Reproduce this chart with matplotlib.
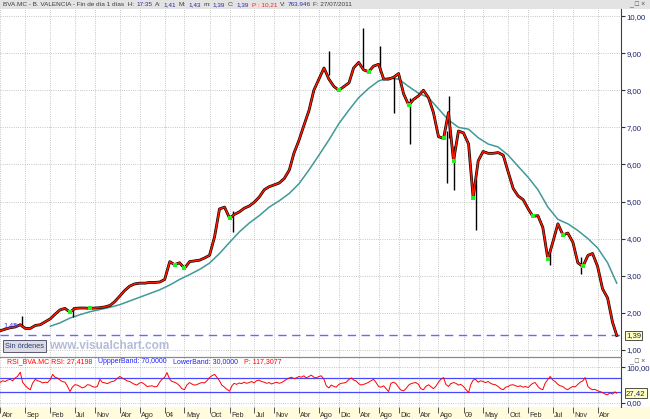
import pandas as pd
import matplotlib
matplotlib.use("Agg")
import matplotlib.pyplot as plt
import matplotlib.transforms as mtransforms
from matplotlib.patches import Rectangle

plt.rcParams['font.family'] = ['Liberation Sans', 'DejaVu Sans']

W, H = 650, 419

# monthly closes, first trading day of each month, Apr 2001 .. Jul 2011
close_monthly = [
    1.52, 1.56, 1.60, 1.62, 1.68, 1.58, 1.58, 1.66, 1.68, 1.76, 1.84, 1.96,
    2.08, 2.12, 2.02, 2.12, 2.13, 2.13, 2.12, 2.13, 2.14, 2.16, 2.20, 2.30,
    2.45, 2.60, 2.72, 2.78, 2.80, 2.80, 2.82, 2.82, 2.83, 2.90, 3.38, 3.30,
    3.35, 3.20, 3.38, 3.40, 3.42, 3.48, 3.55, 4.05, 4.80, 4.85, 4.55, 4.65,
    4.72, 4.82, 4.88, 4.98, 5.12, 5.32, 5.40, 5.45, 5.50, 5.62, 5.85, 6.30,
    6.65, 7.05, 7.45, 8.00, 8.30, 8.60, 8.30, 8.10, 8.00, 8.10, 8.20, 8.60,
    8.75, 8.55, 8.50, 8.65, 8.70, 8.30, 8.30, 8.35, 8.45, 7.90, 7.60, 7.75,
    7.85, 8.00, 7.80, 7.40, 6.75, 6.70, 7.40, 6.10, 6.90, 6.85, 6.55, 5.10,
    6.10, 6.35, 6.30, 6.30, 6.32, 6.25, 5.80, 5.35, 5.15, 5.05, 4.80, 4.60,
    4.62, 4.30, 3.45, 3.90, 4.40, 4.10, 4.15, 3.90, 3.35, 3.25, 3.55, 3.60,
    3.25, 2.65, 2.40, 1.75,
]
last_date = "2011-07-27"
last_close = 1.39
first_close_label = "1,45"

# long moving average, every two months from Feb 2002
ma_values = [
    1.64, 1.73, 1.86, 1.95, 2.03, 2.09, 2.15, 2.22, 2.32, 2.42, 2.52, 2.62,
    2.75, 2.90, 3.03, 3.17, 3.34, 3.60, 3.90, 4.18, 4.42, 4.62, 4.85, 5.02,
    5.22, 5.48, 5.85, 6.25, 6.66, 7.10, 7.47, 7.80, 8.05, 8.25, 8.33, 8.30,
    8.10, 7.92, 7.80, 7.50, 7.20, 7.00, 6.95, 6.72, 6.55, 6.47, 6.25, 5.95,
    5.65, 5.32, 4.85, 4.52, 4.40, 4.22, 4.00, 3.75, 3.35,
]
ma_last = 2.80

# visible high/low spikes of the daily bars
wick_dates = ["2001-08-10", "2002-06-20", "2005-02-20", "2006-10-01", "2007-04-25",
              "2007-08-10", "2007-11-05", "2008-02-10", "2008-09-20", "2008-10-05",
              "2008-11-05", "2009-03-20", "2010-06-15", "2010-12-20"]
wick_low = [1.62, 1.90, 4.18, 8.40, 8.60, 8.50, 7.40, 6.55, 5.50, 6.70, 5.30, 4.23, 3.28, 3.05]
wick_high = [1.92, 2.15, 4.75, 9.05, 9.68, 9.20, 8.35, 7.80, 6.90, 7.85, 6.50, 5.60, 3.75, 3.50]

# RSI, twice a month from Apr 2001
rsi_values = [
    58, 62, 60, 64, 66, 62, 70, 74, 86, 58, 48, 42,
    37, 55, 66, 62, 60, 56, 58, 57, 66, 80, 72, 70,
    64, 60, 58, 48, 32, 44, 51, 50, 46, 42, 45, 51,
    50, 46, 44, 46, 66, 58, 56, 54, 58, 60, 62, 68,
    74, 70, 66, 62, 60, 56, 52, 50, 56, 57, 52, 46,
    47, 48, 45, 46, 58, 66, 72, 85, 66, 60, 58, 55,
    48, 40, 37, 50, 57, 53, 50, 51, 55, 57, 56, 62,
    71, 76, 80, 72, 62, 50, 44, 38, 33, 48, 55, 52,
    56, 54, 58, 55, 57, 60, 56, 62, 64, 60, 58, 55,
    57, 53, 56, 58, 55, 57, 62, 66, 70, 72, 68, 70,
    74, 72, 76, 70, 74, 78, 72, 70, 74, 76, 66, 48,
    42, 50, 46, 44, 52, 55, 56, 58, 66, 70, 64, 62,
    54, 50, 52, 54, 58, 62, 66, 58, 46, 44, 48, 40,
    32, 55, 58, 54, 44, 36, 34, 40, 50, 54, 56, 57,
    52, 40, 37, 46, 51, 46, 40, 46, 58, 66, 71, 52,
    46, 54, 57, 55, 50, 52, 46, 38, 29, 52, 64, 66,
    58, 62, 60, 57, 60, 55, 52, 51, 46, 40, 37, 44,
    46, 50, 51, 48, 46, 48, 44, 46, 43, 50, 55, 57,
    46, 40, 37, 55, 66, 74, 64, 60, 52, 48, 46, 40,
    37, 42, 46, 45, 52, 58, 62, 71, 46, 40, 37, 38,
    34, 32, 29, 25, 23, 28, 25, 31,
]
rsi_last = 27.42

tick_dates = ["2001-04-01", "2001-09-01", "2002-02-01", "2002-07-01", "2002-11-01",
              "2003-04-01", "2003-08-01", "2004-01-01", "2004-05-01", "2004-10-01",
              "2005-02-01", "2005-07-01", "2005-11-01", "2006-04-01", "2006-08-01",
              "2006-12-01", "2007-04-01", "2007-08-01", "2007-12-01", "2008-04-01",
              "2008-08-01", "2009-01-01", "2009-05-01", "2009-10-01", "2010-02-01",
              "2010-07-01", "2010-11-01", "2011-04-01"]
tick_labels = ["Abr", "Sep", "Feb", "Jul", "Nov", "Abr", "Ago", "04", "May", "Oct",
               "Feb", "Jul", "Nov", "Abr", "Ago", "Dic", "Abr", "Ago", "Dic", "Abr",
               "Ago", "09", "May", "Oct", "Feb", "Jul", "Nov", "Abr"]

price_ticks = [1, 2, 3, 4, 5, 6, 7, 8, 9, 10]

close_dates = list(pd.date_range("2001-04-01", periods=len(close_monthly), freq="MS")) + [pd.Timestamp(last_date)]
closes = close_monthly + [last_close]
ma_dates = list(pd.date_range("2002-02-01", periods=len(ma_values), freq="2MS")) + [pd.Timestamp(last_date)]
ma = ma_values + [ma_last]
rsi_dates = list(pd.date_range("2001-04-01", periods=len(rsi_values), freq="SMS")) + [pd.Timestamp(last_date)]
rsi = rsi_values + [rsi_last]
ticks = pd.to_datetime(tick_dates)


def px_box(left, top, right, bottom):
    return [left / W, 1 - bottom / H, (right - left) / W, (bottom - top) / H]


def segments(fig, x_px, y_px, parts, size, gap=2.5):
    renderer = fig.canvas.get_renderer()
    x = x_px
    for txt, color in parts:
        t = fig.text(x / W, 1 - y_px / H, txt, color=color, fontsize=size, va='center', ha='left')
        x += t.get_window_extent(renderer).width + gap


fig = plt.figure(figsize=(W / 100, H / 100), dpi=100)
fig.patch.set_facecolor('white')
fig.patches.append(Rectangle((0, 1 - 9 / H), 1, 9 / H, transform=fig.transFigure,
                             facecolor='#e3e3e3', edgecolor='none', zorder=-5))
fig.patches.append(Rectangle((0, 0), 1, 12 / H, transform=fig.transFigure,
                             facecolor='#fffbdc', edgecolor='none', zorder=-5))

ax = fig.add_axes(px_box(0, 9, 621, 357))
rx = fig.add_axes(px_box(0, 357, 621, 407), sharex=ax)
for a in (ax, rx):
    a.set_facecolor('none')

# price panel
ax.plot(ma_dates, ma, color='#3f9a96', lw=1.1, zorder=2)
ax.plot(close_dates, closes, color='black', lw=2.0, zorder=3)
ax.vlines(pd.to_datetime(wick_dates), wick_low, wick_high, color='black', lw=1.0, zorder=3)
ax.plot(close_dates, closes, color='#ff1a00', lw=1.1, zorder=4)
low_pts = [i for i in range(1, len(closes) - 1) if closes[i] < closes[i - 1] and closes[i] < closes[i + 1]]
ax.scatter([close_dates[i] for i in low_pts], [closes[i] for i in low_pts],
           marker='s', s=5, color='#22ee22', linewidths=0, zorder=5)
ax.axhline(last_close, color='#6868ff', lw=1.0, ls=(0, (6, 4)), zorder=2)

ax.set_xlim(pd.Timestamp("2001-03-30"), pd.Timestamp("2011-08-22"))
ax.set_ylim(0.81, 10.19)
ax.set_xticks(ticks)
ax.set_yticks(price_ticks)
ax.set_yticklabels([f"{v},00" for v in price_ticks])
ax.yaxis.tick_right()
ax.tick_params(axis='x', length=0, labelbottom=False)
ax.tick_params(axis='y', length=3, width=0.8, color='#333333', pad=1,
               labelsize=5.6, labelcolor='#1c2470')
ax.grid(True, color='#b4b4b4', ls=':', lw=0.6)
for s in ('top', 'left'):
    ax.spines[s].set_visible(False)
ax.spines['right'].set_color('#404040')
ax.spines['bottom'].set_color('#8a8a8a')
ax.spines['bottom'].set_linewidth(0.8)

ax.text(0.005, 1.66, first_close_label, transform=ax.get_yaxis_transform(),
        fontsize=5.2, color='#3030ff', va='center', ha='left', zorder=6)
ax.text(1.008, last_close, f"{last_close:.2f}".replace('.', ','), transform=ax.get_yaxis_transform(),
        fontsize=5.6, color='#1c2470', va='center', ha='left',
        bbox=dict(boxstyle='square,pad=0.15', fc='#ffffc0', ec='#333333', lw=0.6))

# RSI panel
rx.plot(rsi_dates, rsi, color='#ff0000', lw=0.7, zorder=3)
rx.axhline(70, color='#4848ff', lw=0.9, zorder=2)
rx.axhline(30, color='#4848ff', lw=0.9, zorder=2)
rx.set_ylim(-11.4, 128.6)
rx.set_yticks([0, 100])
rx.set_yticklabels(["0,00", "100,00"])
rx.yaxis.tick_right()
rx.tick_params(axis='y', length=3, width=0.8, color='#333333', pad=1,
               labelsize=5.6, labelcolor='#1c2470')
rx.set_xticks(ticks)
rx.set_xticklabels(tick_labels, ha='left')
rx.tick_params(axis='x', length=4, width=0.7, color='#555555', pad=-0.5,
               labelsize=5.2, labelcolor='#303030')
shift = mtransforms.ScaledTranslation(1.5 / 100, 0, fig.dpi_scale_trans)
for lab in rx.get_xticklabels():
    lab.set_transform(lab.get_transform() + shift)
rx.grid(True, color='#b4b4b4', ls=':', lw=0.6)
for s in ('left', 'bottom'):
    rx.spines[s].set_visible(False)
rx.spines['top'].set_color('#8a8a8a')
rx.spines['top'].set_linewidth(0.8)
rx.spines['right'].set_color('#404040')
rx.text(1.008, rsi_last, f"{rsi_last:.2f}".replace('.', ','), transform=rx.get_yaxis_transform(),
        fontsize=5.6, color='#1c2470', va='center', ha='left',
        bbox=dict(boxstyle='square,pad=0.15', fc='#ffffc0', ec='#333333', lw=0.6))

# text overlays
gray, blue, red = '#3c3c3c', '#2a2aa8', '#ff2020'
segments(fig, 3, 4.5, [("BVA.MC - B. VALENCIA - Fin de día 1 días  H:", gray), ("17:35", blue),
                       ("A:", gray), ("1,41", blue), ("M:", gray), ("1,43", blue),
                       ("m:", gray), ("1,39", blue), ("C:", gray), ("1,39", blue),
                       ("P : 10,21", red), ("V:", gray), ("763.946", blue),
                       ("F: 27/07/2011", gray)], 4.6)
segments(fig, 7, 361.5, [("RSI_BVA.MC RSI: 27,4198", '#ff0000'),
                         ("UppperBand: 70,0000", '#2020ff'),
                         ("LowerBand: 30,0000", '#2020ff'),
                         ("P: 117,3077", '#ff0000')], 5.0, gap=6)
for yb in (5, 362):
    fig.text(629 / W, 1 - yb / H, "_ □ ×", fontsize=5, color='#505050', va='center', ha='left')

fig.text(5 / W, 1 - 346 / H, "Sin órdenes", fontsize=5.3, color='#2a3d7a', va='center', ha='left',
         bbox=dict(boxstyle='square,pad=0.3', fc='#dcdce6', ec='#404060', lw=0.6))
fig.text(49 / W, 1 - 346 / H, "www.visualchart.com", fontsize=8.5, weight='bold',
         color='#b4bcd8', va='center', ha='left')

fig.savefig("out.png", dpi=100)
